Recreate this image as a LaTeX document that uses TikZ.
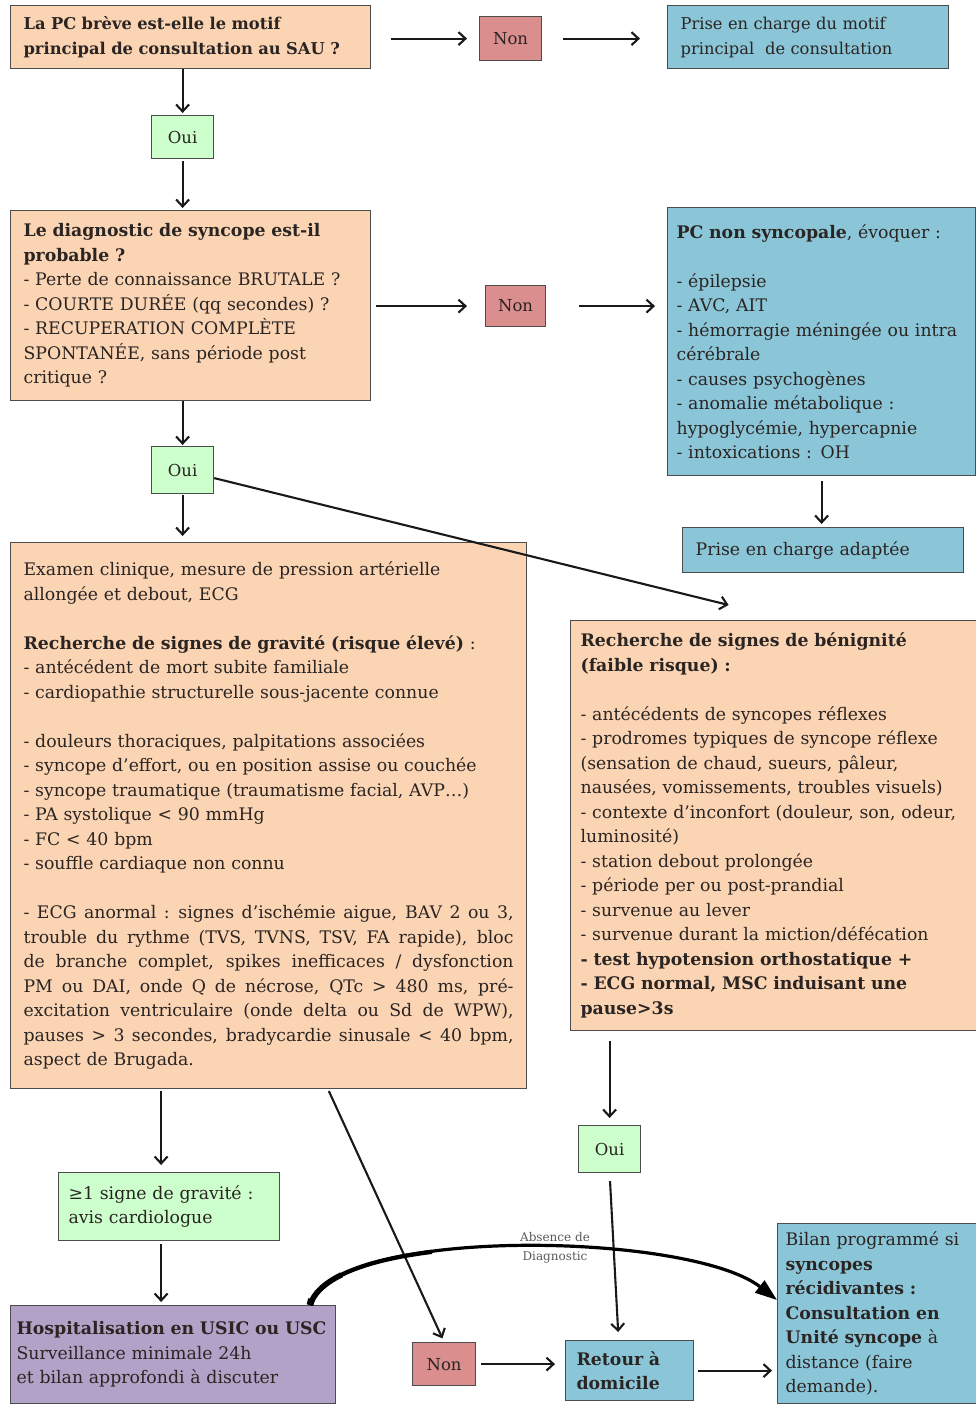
\documentclass[tikz,border=0pt]{standalone}
\usepackage{amsmath,amssymb}
\usepackage{fontspec}
\setmainfont{DejaVu Serif}
\usepackage{xcolor}
\usepackage{tikz}
\usetikzlibrary{positioning,calc,arrows.meta}

\definecolor{orangefill}{HTML}{FBD4B4}
\definecolor{bluefill}{HTML}{8BC6D8}
\definecolor{greenfill}{HTML}{CCFFCC}
\definecolor{redfill}{HTML}{DA8E8E}
\definecolor{purplefill}{HTML}{B2A2C7}
\definecolor{inktext}{HTML}{2A2422}

\newcommand{\bodyfont}{\fontsize{17.3}{24.5}\selectfont}
\newcommand{\jline}[1]{\leavevmode{\spaceskip=0.318em plus 1fil minus 0.1em\relax\hbox to 490pt{#1}}}

\tikzset{
  box/.style={draw=black!70, line width=1.2pt, anchor=north west, inner xsep=13pt,
    inner ysep=3pt, align=left, text=inktext, font=\bodyfont},
  orangebox/.style={box, fill=orangefill},
  bluebox/.style={box, fill=bluefill},
  greenbox/.style={box, fill=greenfill},
  purplebox/.style={box, fill=purplefill},
  answer/.style={box, align=center, inner sep=0pt, font=\fontsize{16.5}{20}\selectfont},
  nonbox/.style={answer, fill=redfill},
  ouibox/.style={answer, fill=greenfill},
  arr/.style={-{Straight Barb[length=7pt,width=13pt]}, line width=2.1pt, black!90},
}

\begin{document}
\begin{tikzpicture}[x=1pt, y=-1pt]
    \useasboundingbox (0,0) rectangle (976,1404);

    % first question
    \node[orangebox, minimum width=360pt, minimum height=63pt, text width=334pt,
      font=\fontsize{16.3}{25}\selectfont\bfseries] (q1) at (10,5)
      {La PC brève est-elle le motif\\principal de consultation au SAU ?};
    \node[nonbox, minimum width=62pt, minimum height=44pt] (non1) at (479,16) {Non};
    \node[bluebox, minimum width=281pt, minimum height=63pt, text width=255pt,
      font=\fontsize{16.3}{25}\selectfont] (motif) at (667,5)
      {Prise en charge du motif\\principal\ \ de consultation};
    \node[ouibox, minimum width=62pt, minimum height=43pt] (oui1) at (151,115) {Oui};

    % second question
    \node[orangebox, minimum width=360pt, minimum height=190pt, text width=334pt] (q2) at (10,210)
      {\textbf{Le diagnostic de syncope est-il}\\
       \textbf{probable ?}\\
       - Perte de connaissance BRUTALE ?\\
       - COURTE DURÉE (qq secondes) ?\\
       - RECUPERATION COMPLÈTE\\
       SPONTANÉE, sans période post\\
       critique ?};
    \node[nonbox, minimum width=60pt, minimum height=41pt] (non2) at (485,285) {Non};
    \node[bluebox, minimum width=308pt, minimum height=268pt, text width=290pt, inner xsep=9pt] (nonsync) at (667,207)
      {\textbf{PC non syncopale}, évoquer :\\[24.5pt]
       - épilepsie\\
       - AVC, AIT\\
       - hémorragie méningée ou intra\\
       cérébrale\\
       - causes psychogènes\\
       - anomalie métabolique :\\
       hypoglycémie, hypercapnie\\
       - intoxications : OH};
    \node[bluebox, minimum width=281pt, minimum height=45pt, text width=255pt] (adaptee) at (682,527)
      {Prise en charge adaptée};
    \node[ouibox, minimum width=62pt, minimum height=47pt] (oui2) at (151,446) {Oui};

    % gravite / benignite
    \node[orangebox, minimum width=516pt, minimum height=546pt, text width=490pt] (exam) at (10,542)
      {Examen clinique, mesure de pression artérielle\\
       allongée et debout, ECG\\[24.5pt]
       \textbf{Recherche de signes de gravité (risque élevé)} :\\
       - antécédent de mort subite familiale\\
       - cardiopathie structurelle sous-jacente connue\\[24.5pt]
       - douleurs thoraciques, palpitations associées\\
       - syncope d'effort, ou en position assise ou couchée\\
       - syncope traumatique (traumatisme facial, AVP…)\\
       - PA systolique < 90 mmHg\\
       - FC < 40 bpm\\
       - souffle cardiaque non connu\\[24.5pt]
       \jline{- ECG anormal : signes d'ischémie aigue, BAV 2 ou 3,}\\
       \jline{trouble du rythme (TVS, TVNS, TSV, FA rapide), bloc}\\
       \jline{de branche complet, spikes inefficaces / dysfonction}\\
       \jline{PM ou DAI, onde Q de nécrose, QTc > 480 ms, pré-}\\
       \jline{excitation ventriculaire (onde delta ou Sd de WPW),}\\
       \jline{pauses > 3 secondes, bradycardie sinusale < 40 bpm,}\\
       aspect de Brugada.};
    \node[orangebox, minimum width=406pt, minimum height=410pt, text width=386pt, inner xsep=10pt] (benin) at (570,620)
      {\textbf{Recherche de signes de bénignité}\\
       \textbf{(faible risque) :}\\[24.5pt]
       - antécédents de syncopes réflexes\\
       - prodromes typiques de syncope réflexe\\
       (sensation de chaud, sueurs, pâleur,\\
       nausées, vomissements, troubles visuels)\\
       - contexte d'inconfort (douleur, son, odeur,\\
       luminosité)\\
       - station debout prolongée\\
       - période per ou post-prandial\\
       - survenue au lever\\
       - survenue durant la miction/défécation\\
       \textbf{- test hypotension orthostatique +}\\
       \textbf{- ECG normal, MSC induisant une}\\
       \textbf{pause>3s}};

    % issues
    \node[ouibox, minimum width=62pt, minimum height=47pt] (oui3) at (578,1125) {Oui};
    \node[greenbox, minimum width=221pt, minimum height=68pt, text width=201pt, inner xsep=10pt] (signe) at (58,1172)
      {≥1 signe de gravité :\\avis cardiologue};
    \node[purplebox, minimum width=325pt, minimum height=98pt, text width=313pt, inner xsep=6pt] (hosp) at (10,1305)
      {\textbf{Hospitalisation en USIC ou USC}\\
       Surveillance minimale 24h\\
       et bilan approfondi à discuter};
    \node[nonbox, minimum width=63pt, minimum height=43pt] (non3) at (412,1342) {Non};
    \node[bluebox, minimum width=128pt, minimum height=60pt, text width=106pt, inner xsep=11pt,
      font=\bodyfont\bfseries] (retour) at (565,1340)
      {Retour à\\domicile};
    \node[bluebox, minimum width=199pt, minimum height=180pt, text width=183pt, inner xsep=8pt] (bilan) at (777,1223)
      {Bilan programmé si\\
       \textbf{syncopes}\\
       \textbf{récidivantes :}\\
       \textbf{Consultation en}\\
       \textbf{Unité syncope} à\\
       distance (faire\\
       demande).};

    % connectors
    \draw[arr, shorten <=20pt, shorten >=12pt] (q1.east |- non1.west) -- (non1.west);
    \draw[arr, shorten <=21pt, shorten >=27pt] (non1.east) -- (motif.west |- non1.east);
    \draw[arr, shorten >=2pt] (q1.south -| oui1.north) -- (oui1.north);
    \draw[arr, shorten <=2pt, shorten >=2pt] (oui1.south) -- (q2.north -| oui1.south);
    \draw[arr, shorten <=5pt, shorten >=18pt] (q2.east |- non2.west) -- (non2.west);
    \draw[arr, shorten <=33pt, shorten >=12pt] (non2.east) -- (nonsync.west |- non2.east);
    \draw[arr, shorten <=5pt, shorten >=3pt] (nonsync.south) -- (adaptee.north -| nonsync.south);
    \draw[arr, shorten >=1pt] (q2.south -| oui2.north) -- (oui2.north);
    \draw[arr, shorten <=1pt, shorten >=6pt] (oui2.south) -- (exam.north -| oui2.south);
    \draw[arr] ($(oui2.east)+(0,8)$) -- ($(benin.north)+(-45,-15)$);
    \draw[arr, shorten <=2pt, shorten >=7pt] ($(exam.south -| signe.north)+(-8,0)$) -- ($(signe.north)+(-8,0)$);
    \draw[arr, shorten <=3pt, shorten >=3pt] ($(signe.south)+(-8,0)$) -- ($(hosp.north -| signe.south)+(-8,0)$);
    \draw[arr, shorten <=2pt, shorten >=4pt] ($(exam.south west)+(318,0)$) -- (non3.north);
    \draw[arr, shorten <=10pt, shorten >=7pt] (benin.south -| oui3.north) -- (oui3.north);
    \draw[arr, shorten <=8pt, shorten >=8pt] (oui3.south) -- ($(retour.north)+(-11,0)$);
    \draw[arr, shorten <=5pt, shorten >=10pt] (non3.east) -- (retour.west |- non3.east);
    \draw[arr, shorten <=4pt, shorten >=5pt] (retour.east) -- (bilan.west |- retour.east);

    % absence de diagnostic, thicker at its start
    \draw[line width=3.2pt, -{Triangle[length=22pt,width=15pt]}]
      ($(hosp.north east)+(-25,0)$) .. controls (335,1225) and (690,1232) .. ($(bilan.north west)+(0,77)$);
    \draw[line width=4.3pt] (310,1305) .. controls (318.75,1277) and (367.9,1259.66) .. (431.87,1251.86);
    \draw[line width=5.5pt] (310,1305) .. controls (313.75,1293) and (324.93,1282.96) .. (341.51,1274.79);
    \draw[line width=6.8pt] (310,1305) -- (311.5,1299);
    \node[font=\fontsize{12}{19}\selectfont, text=black!65, align=center] (absence) at (555,1248)
      {Absence de\\Diagnostic};
\end{tikzpicture}
\end{document}
